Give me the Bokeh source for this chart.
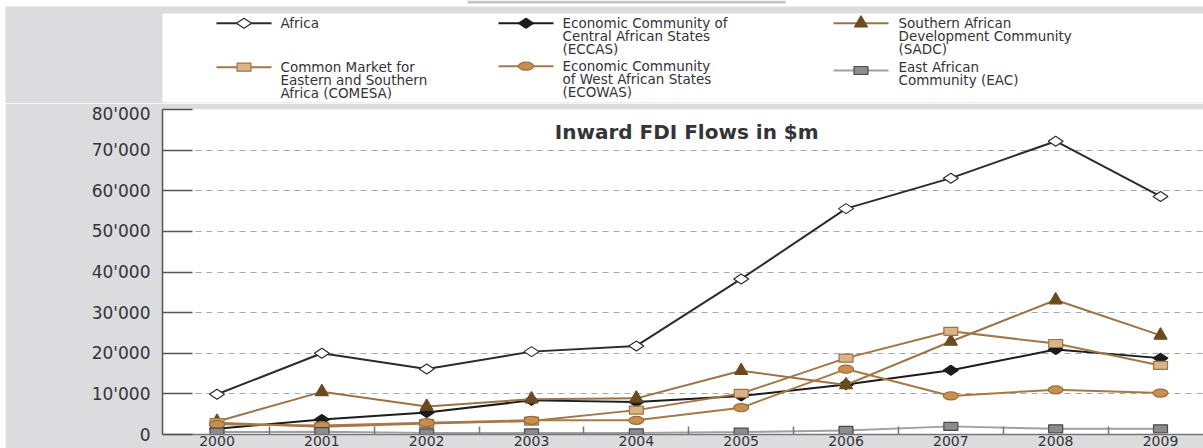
import numpy as np
from bokeh.plotting import figure
from bokeh.layouts import column, row
from bokeh.models import Range1d, FixedTicker, CustomJSTickFormatter, Label, Spacer
from bokeh.core.properties import value
from bokeh.embed import file_html
from bokeh.resources import INLINE

# Inward FDI flows, $m
years = [2000, 2001, 2002, 2003, 2004, 2005, 2006, 2007, 2008, 2009]
africa = [9900, 20000, 16100, 20400, 21800, 38300, 55600, 63100, 72200, 58600]
eccas = [1400, 3700, 5400, 8400, 8000, 9500, 12300, 15800, 20900, 18800]
sadc = [3200, 10500, 6900, 8700, 8900, 15700, 12200, 22900, 33100, 24400]
comesa = [2900, 1900, 2700, 3300, 6000, 10100, 18800, 25400, 22400, 17000]
ecowas = [2500, 2200, 2900, 3500, 3500, 6600, 16100, 9500, 11000, 10200]
eac = [600, 700, 400, 400, 400, 600, 1000, 2000, 1400, 1400]

y_ticks = [0, 10000, 20000, 30000, 40000, 50000, 60000, 70000, 80000]

names = [
    "Africa",
    "Economic Community of\nCentral African States\n(ECCAS)",
    "Southern African\nDevelopment Community\n(SADC)",
    "Common Market for\nEastern and Southern\nAfrica (COMESA)",
    "Economic Community\nof West African States\n(ECOWAS)",
    "East African\nCommunity (EAC)",
]
title_text = "Inward FDI Flows in $m"

GRAY = "#dcdcde"
TEXT = "#333338"
FONT = "DejaVu Sans"

series = [
    dict(values=africa, line="#2b2b2b", marker="diamond", fill="white", edge="#2b2b2b"),
    dict(values=eccas, line="#1c1c1c", marker="diamond", fill="#1c1c1c", edge="#1c1c1c"),
    dict(values=sadc, line="#9b7346", marker="triangle", fill="#6b4a1f", edge="#6b4a1f"),
    dict(values=comesa, line="#a07848", marker="square", fill="#d8b487", edge="#9b7346"),
    dict(values=ecowas, line="#a67a46", marker="circle", fill="#c89050", edge="#9b6d38"),
    dict(values=eac, line="#a0a0a0", marker="square", fill="#8c8c90", edge="#4a4a4a"),
]


def draw_marker(fig, xs, ys, s):
    kw = dict(fill_color=s["fill"], line_color=s["edge"], line_width=1.2)
    if s["marker"] == "diamond":
        fig.scatter(xs, ys, marker="diamond", size=15, angle=np.pi / 2, **kw)
    elif s["marker"] == "triangle":
        fig.scatter(xs, ys, marker="triangle", size=13, **kw)
    elif s["marker"] == "square":
        fig.rect(xs, ys, width=14, height=8, width_units="screen",
                 height_units="screen", **kw)
    else:
        fig.ellipse(xs, ys, width=15, height=8, width_units="screen",
                    height_units="screen", **kw)


# ---- legend strip (pixel coordinates, y growing downwards) ----
leg = figure(width=1203, height=103, x_range=Range1d(0, 1203), y_range=Range1d(103, 0),
             x_axis_type=None, y_axis_type=None, title=None, toolbar_location=None,
             output_backend="svg", min_border=0, outline_line_color=None,
             background_fill_color="white", border_fill_color="white")
leg.grid.visible = False
leg.quad(left=5, right=1203, top=6, bottom=103, fill_color=GRAY, line_color=None)
leg.quad(left=467, right=785, top=0, bottom=3, fill_color="#c6c6c6", line_color=None)
leg.quad(left=162, right=1203, top=13, bottom=102, fill_color="white", line_color=None)

col_glyph_x = [216, 498, 833]
col_text_x = [280, 562, 898]
entry_pos = [(0, 22.7, 22.7), (1, 22.7, 22.7), (2, 22.7, 22.7),
             (0, 66.7, 66.7), (1, 65.7, 65.7), (2, 70.0, 66.7)]
for s, name, (c, gy, ty) in zip(series, names, entry_pos):
    x0 = col_glyph_x[c]
    leg.line([x0, x0 + 55], [gy, gy], line_color=s["line"], line_width=2)
    draw_marker(leg, [x0 + 27.5], [gy], s)
    leg.text([col_text_x[c]], [ty - 8.0], text=[name], text_font=value(FONT),
             text_font_size="13.5px", text_color=TEXT, text_baseline="top",
             text_align="left", text_line_height=0.8)

# ---- main chart ----
p = figure(width=1198, height=345, x_range=Range1d(1999.48, 2009.41),
           y_range=Range1d(0, 80000), title=None, toolbar_location=None,
           output_backend="svg", min_border_left=157, min_border_top=6,
           min_border_right=0, min_border_bottom=0, border_fill_color=GRAY,
           background_fill_color="white", outline_line_color=None)

for s in series:
    p.line(years, s["values"], line_color=s["line"], line_width=2)
    draw_marker(p, years, s["values"], s)

p.add_layout(Label(x=2004.48, y=74400, text=title_text, text_align="center",
                   text_baseline="middle", text_font=FONT, text_font_size="20px",
                   text_font_style="bold", text_color=TEXT))

yt = FixedTicker(ticks=y_ticks)
p.yaxis.ticker = yt
p.yaxis.formatter = CustomJSTickFormatter(
    code="return tick.toFixed(0).replace(/\\B(?=(\\d{3})+(?!\\d))/g, \"'\");")
p.yaxis.major_tick_in = 30
p.yaxis.major_tick_out = 0
p.yaxis.minor_tick_line_color = None
p.yaxis.axis_line_color = "#555555"
p.yaxis.axis_line_width = 1.5
p.yaxis.major_tick_line_color = "#555555"
p.yaxis.major_tick_line_width = 1.5
p.yaxis.major_label_standoff = 12
p.yaxis.major_label_text_font = FONT
p.yaxis.major_label_text_font_size = "17px"
p.yaxis.major_label_text_color = TEXT

p.xaxis.ticker = FixedTicker(ticks=years, minor_ticks=[y + 0.5 for y in years[:-1]])
p.xaxis.major_tick_line_color = None
p.xaxis.major_tick_in = 0
p.xaxis.major_tick_out = 0
p.xaxis.minor_tick_in = 8
p.xaxis.minor_tick_out = 0
p.xaxis.minor_tick_line_color = "#777777"
p.xaxis.minor_tick_line_width = 1.5
p.xaxis.axis_line_color = "#777777"
p.xaxis.axis_line_width = 1.5
p.xaxis.major_label_standoff = 1
p.xaxis.major_label_text_font = FONT
p.xaxis.major_label_text_font_size = "14px"
p.xaxis.major_label_text_color = TEXT

p.xgrid.visible = False
p.ygrid.ticker = yt
p.ygrid.grid_line_color = "#a8a8a8"
p.ygrid.grid_line_dash = "6 5"
p.ygrid.grid_line_width = 1.2

layout = column(leg, row(Spacer(width=5, height=345), p))
open("out.html", "w").write(file_html(layout, INLINE))
